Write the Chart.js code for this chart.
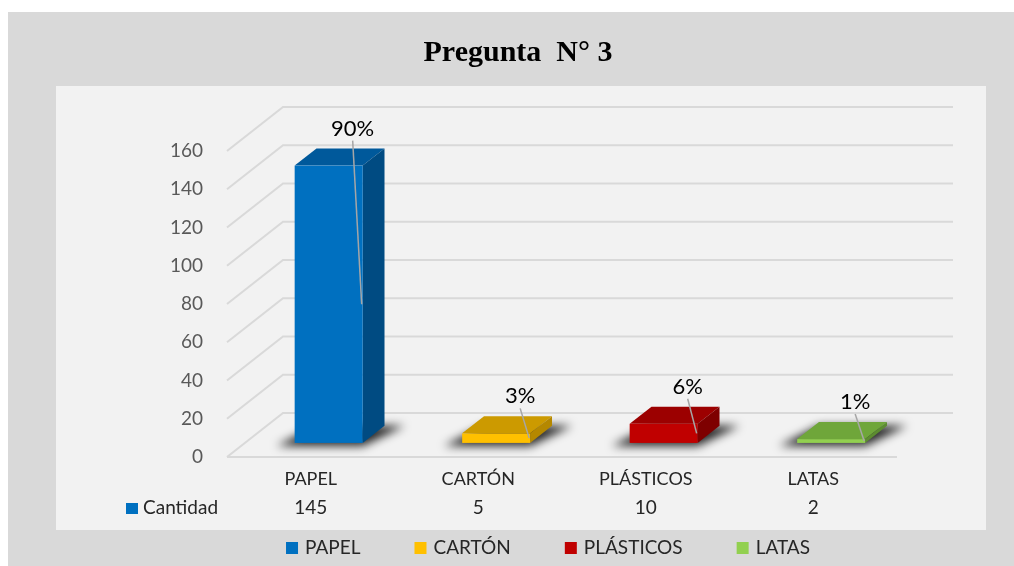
<!DOCTYPE html>
<html>
<head>
<meta charset="utf-8">
<script src="https://cdn.jsdelivr.net/npm/chart.js@4.4.0/dist/chart.umd.min.js"></script>
<style>
  body { margin: 0; background: #ffffff; }
  #wrap { width: 1014px; height: 566px; }
</style>
</head>
<body>
<div id="wrap"><canvas id="chart" width="1014" height="566"></canvas></div>
<script>
// data
const categories = ['PAPEL', 'CARTÓN', 'PLÁSTICOS', 'LATAS'];
const cantidad = [145, 5, 10, 2];
const seriesName = 'Cantidad';
const yMax = 160;
const yStep = 20;

// styles
const frontColors = ['#0070c0', '#ffc000', '#c00000', '#92d050'];
const topColors = ['#00599b', '#cc9a00', '#9c0000', '#6fa63a'];
const sideColors = ['#004b82', '#b58800', '#7e0000', '#5c8c30'];

// 3d depth of the floor and where the bars sit in it
const DX = 56, DY = 44;
const F0 = 0.32, F1 = 0.71;

const total = cantidad.reduce((a, b) => a + b, 0);
const TEXT = '#262626';

Chart.defaults.font.family = 'Lato, "Open Sans", sans-serif';

const depthPlugin = {
    id: 'depth3d',
    beforeDraw(chart) {
        const c = chart.ctx;
        const { left, right } = chart.chartArea;
        const ys = chart.scales.y;
        c.save();
        c.fillStyle = '#ffffff';
        c.fillRect(0, 0, chart.width, chart.height);
        c.fillStyle = '#d9d9d9';
        c.fillRect(8, 12, chart.width - 8, chart.height - 12);
        c.fillStyle = '#f2f2f2';
        c.fillRect(56, 86, 930, 444);

        // side wall + back wall gridlines
        c.strokeStyle = '#d9d9d9';
        c.lineWidth = 2;
        ys.ticks.forEach(t => {
            const py = ys.getPixelForValue(t.value);
            c.beginPath();
            c.moveTo(left, py);
            c.lineTo(left + DX, py - DY);
            c.lineTo(right + DX, py - DY);
            c.stroke();
        });
        const p0 = ys.getPixelForValue(0);
        c.beginPath();
        c.moveTo(left, p0);
        c.lineTo(right, p0);
        c.stroke();
        c.restore();
    },
    afterDatasetsDraw(chart) {
        const c = chart.ctx;
        const meta = chart.getDatasetMeta(0);
        const fx = DX * F0, fy = DY * F0;
        const dx = DX * (F1 - F0), dy = DY * (F1 - F0);

        meta.data.forEach((bar, i) => {
            const { x, y, base, width } = bar.getProps(['x', 'y', 'base', 'width'], true);
            const l = x - width / 2 + fx, r = x + width / 2 + fx;
            const t = y - fy, b = base - fy;

            // floor shadow
            c.save();
            c.filter = 'blur(5px)';
            c.fillStyle = 'rgba(0,0,0,0.85)';
            c.beginPath();
            c.moveTo(l - 18, b + 3);
            c.lineTo(r, b + 3);
            c.lineTo(r + dx + 20, b - dy);
            c.lineTo(l + dx, b - dy);
            c.closePath();
            c.fill();
            c.restore();

            c.save();
            // top face
            c.fillStyle = topColors[i];
            c.beginPath();
            c.moveTo(l, t);
            c.lineTo(r, t);
            c.lineTo(r + dx, t - dy);
            c.lineTo(l + dx, t - dy);
            c.closePath();
            c.fill();
            // side face
            c.fillStyle = sideColors[i];
            c.beginPath();
            c.moveTo(r, t);
            c.lineTo(r + dx, t - dy);
            c.lineTo(r + dx, b - dy);
            c.lineTo(r, b);
            c.closePath();
            c.fill();
            // front face
            c.fillStyle = frontColors[i];
            c.fillRect(l, t, r - l, b - t);

            // percentage label with leader line
            const lx = r - 10, ly = t - 37;
            c.strokeStyle = '#a6a6a6';
            c.lineWidth = 1.5;
            c.beginPath();
            c.moveTo(lx, ly + 12);
            c.lineTo(r - 1, (t + b) / 2);
            c.stroke();
            c.fillStyle = '#000000';
            c.font = '22px Lato';
            c.textAlign = 'center';
            c.textBaseline = 'middle';
            c.fillText(Math.round(cantidad[i] / total * 100) + '%', lx, ly);
            c.restore();
        });
    },
    afterDraw(chart) {
        const c = chart.ctx;
        const xs = chart.scales.x;
        c.save();
        // data table row
        c.font = '19px Lato';
        c.textBaseline = 'middle';
        c.fillStyle = frontColors[0];
        c.fillRect(126, 503, 12, 11);
        c.fillStyle = TEXT;
        c.textAlign = 'left';
        c.fillText(seriesName, 143, 508);
        c.textAlign = 'center';
        cantidad.forEach((v, i) => {
            c.fillText(String(v), xs.getPixelForValue(i), 508);
        });

        // legend
        const box = 12, gap = 7, spacing = 54;
        const widths = categories.map(cat => box + gap + c.measureText(cat).width);
        const full = widths.reduce((a, b) => a + b, 0) + spacing * (categories.length - 1);
        let cx = 548 - full / 2;
        c.textAlign = 'left';
        categories.forEach((cat, i) => {
            c.fillStyle = frontColors[i];
            c.fillRect(cx, 542, box, box);
            c.fillStyle = TEXT;
            c.fillText(cat, cx + box + gap, 548);
            cx += widths[i] + spacing;
        });
        c.restore();
    }
};

new Chart(document.getElementById('chart'), {
    type: 'bar',
    data: {
        labels: categories,
        datasets: [{
            label: seriesName,
            data: cantidad,
            backgroundColor: 'rgba(0,0,0,0)',
            categoryPercentage: 1,
            barPercentage: 0.406
        }]
    },
    options: {
        responsive: false,
        animation: false,
        layout: { padding: { left: 22, right: 0, top: 0, bottom: 36 } },
        plugins: {
            legend: { display: false },
            tooltip: { enabled: false },
            title: {
                display: true,
                text: 'Pregunta  N° 3',
                color: '#000000',
                font: { family: '"Liberation Serif", "Times New Roman", serif', size: 30, weight: 'bold' },
                padding: { top: 35, bottom: 80 }
            }
        },
        scales: {
            x: {
                grid: { display: false },
                border: { display: false },
                ticks: { color: TEXT, font: { size: 18 }, padding: 3 },
                afterFit: s => { s.height = 73; }
            },
            y: {
                min: 0,
                max: yMax,
                grid: { display: false },
                border: { display: false },
                ticks: { stepSize: yStep, color: '#595959', font: { size: 19 }, padding: 16 },
                afterFit: s => { s.width = 205; }
            },
            // empty right-hand axis that keeps room for the 3d depth
            depth: {
                position: 'right',
                grid: { display: false },
                border: { display: false },
                ticks: { display: false },
                afterFit: s => { s.width = 117; }
            }
        }
    },
    plugins: [depthPlugin]
});
</script>
</body>
</html>
